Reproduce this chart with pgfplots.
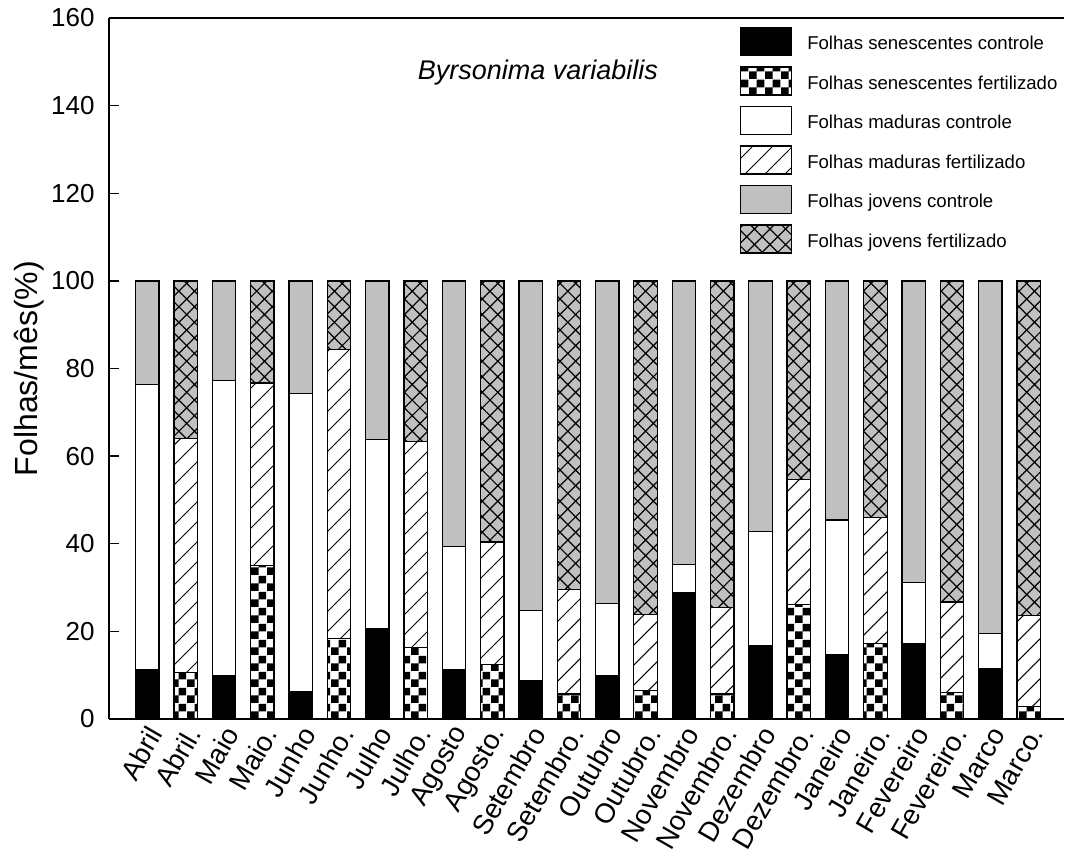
\documentclass[border=0pt]{standalone}
\usepackage{pgfplots}
\pgfplotsset{compat=1.18}
\usepackage{pgfplotstable}
\usepackage{fontspec}
\setmainfont{Liberation Sans}
\usetikzlibrary{patterns,patterns.meta}

\definecolor{leafgray}{RGB}{192,192,192}

% coarse checkerboard for the senescent, fertilised segments
\pgfdeclarepatternformonly{bigchecker}{\pgfqpoint{0pt}{0pt}}{\pgfqpoint{7.8pt}{7.8pt}}{\pgfqpoint{7.8pt}{7.8pt}}{%
  \pgfpathrectangle{\pgfqpoint{0pt}{0pt}}{\pgfqpoint{3.9pt}{3.9pt}}%
  \pgfpathrectangle{\pgfqpoint{3.9pt}{3.9pt}}{\pgfqpoint{3.9pt}{3.9pt}}%
  \pgfusepath{fill}}

% segment heights (% of leaves per month); control at even x, fertilised at odd x
% sc/sf = senescentes, mc/mf = maduras, jc/jf = jovens
\pgfplotstableread{
x  sc    sf    mc    mf    jc    jf
0  11.2  0     65.2  0     23.6  0
1  0     10.6  0     53.4  0     36.0
2  9.9   0     67.4  0     22.7  0
3  0     35.1  0     41.6  0     23.3
4  6.2   0     68.1  0     25.7  0
5  0     18.4  0     65.9  0     15.7
6  20.7  0     43.1  0     36.2  0
7  0     16.3  0     47.1  0     36.6
8  11.2  0     28.1  0     60.7  0
9  0     12.5  0     27.9  0     59.6
10 8.7   0     16.0  0     75.3  0
11 0     5.7   0     23.9  0     70.4
12 9.9   0     16.5  0     73.6  0
13 0     6.5   0     17.4  0     76.1
14 28.9  0     6.4   0     64.7  0
15 0     5.7   0     19.8  0     74.5
16 16.7  0     26.1  0     57.2  0
17 0     26.2  0     28.5  0     45.3
18 14.8  0     30.6  0     54.6  0
19 0     17.2  0     28.8  0     54.0
20 17.2  0     13.9  0     68.9  0
21 0     6.1   0     20.6  0     73.3
22 11.6  0     7.9   0     80.5  0
23 0     2.8   0     20.8  0     76.4
}\leaves

\begin{document}
\begin{tikzpicture}
\begin{axis}[
  scale only axis,
  width=477.5pt, height=350.5pt,
  ybar stacked, bar width=0.61,
  xmin=-1, xmax=23.92,
  ymin=0, ymax=160,
  enlarge x limits=false,
  axis x line=box, axis y line=left,
  axis line style={-, line width=0.65pt},
  xtick={0,...,23},
  xticklabels={Abril,Abril.,Maio,Maio.,Junho,Junho.,Julho,Julho.,Agosto,Agosto.,Setembro,Setembro.,Outubro,Outubro.,Novembro,Novembro.,Dezembro,Dezembro.,Janeiro,Janeiro.,Fevereiro,Fevereiro.,Marco,Marco.},
  xtick style={draw=none},
  xticklabel style={font=\fontsize{13.8}{16}\selectfont, inner sep=0pt, xshift=4pt, yshift=-5pt, rotate=60, anchor=east},
  ytick={0,20,...,160},
  tick align=inside,
  major tick length=5pt,
  ytick style={line width=0.65pt, black},
  yticklabel style={font=\fontsize{13}{15}\selectfont, inner sep=0pt, xshift=-7pt},
  /pgf/number format/assume math mode=true,
  ylabel={Folhas/mês(\%)},
  every axis y label/.style={at={(axis description cs:-0.0838,0.5)}, anchor=center, rotate=90, font=\fontsize{16}{19}\selectfont},
  every axis plot/.append style={draw=black, line width=0.65pt},
  legend image code/.code={\draw[#1] (0pt,-5.5pt) rectangle (25.5pt,8.5pt); \path (33pt,0pt);},
  legend cell align=left,
  legend style={draw=none, fill=none, at={(axis description cs:0.6607,0.9872)}, anchor=north west,
    inner sep=0pt, outer sep=0pt, row sep=5.1pt,
    nodes={inner sep=0pt, font=\fontsize{9.3}{11}\selectfont}},
]
\addplot[fill=black] table[x=x, y=sc]{\leaves};
\addlegendentry{Folhas senescentes controle}
\addplot[fill=white, postaction={pattern=bigchecker}] table[x=x, y=sf]{\leaves};
\addlegendentry{Folhas senescentes fertilizado}
\addplot[fill=white] table[x=x, y=mc]{\leaves};
\addlegendentry{Folhas maduras controle}
\addplot[fill=white, postaction={pattern={Lines[angle=45, distance=7.07pt, line width=0.5pt]}}] table[x=x, y=mf]{\leaves};
\addlegendentry{Folhas maduras fertilizado}
\addplot[fill=leafgray] table[x=x, y=jc]{\leaves};
\addlegendentry{Folhas jovens controle}
\addplot[fill=leafgray, postaction={pattern={Hatch[angle=45, distance=5.5pt, line width=0.6pt]}}] table[x=x, y=jf]{\leaves};
\addlegendentry{Folhas jovens fertilizado}

\node[font=\itshape\fontsize{13.5}{16}\selectfont] at (axis cs:10.19,147.5) {Byrsonima variabilis};
\end{axis}
\pgfresetboundingbox
\path[use as bounding box] (-54.5pt,-70pt) rectangle (478.5pt,359.5pt);
\end{tikzpicture}
\end{document}
